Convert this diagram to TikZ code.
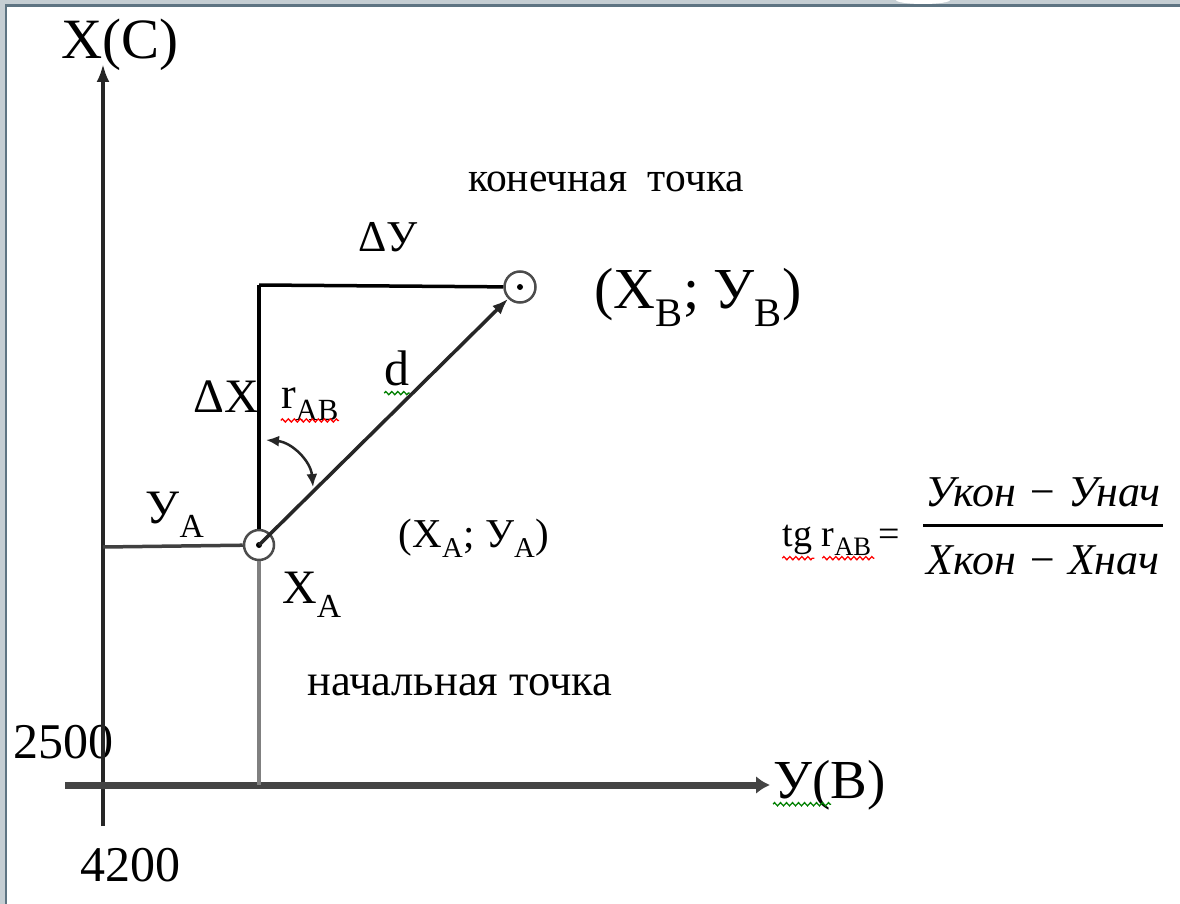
\documentclass[tikz,border=0pt]{standalone}
\usepackage{fontspec}
\setmainfont{Liberation Serif}
\usepackage{xcolor}
\usetikzlibrary{arrows.meta,positioning,calc,decorations.pathmorphing}

\definecolor{framelight}{HTML}{C5CED3}
\definecolor{framedark}{HTML}{5E7482}
\definecolor{axisgray}{HTML}{444444}
\definecolor{spellred}{HTML}{FF0000}
\definecolor{spellgreen}{HTML}{008000}
\newcommand{\fsz}[1]{\fontsize{#1}{#1}\selectfont}

\begin{document}
\begin{tikzpicture}[
  x=1pt, y=-1pt,
  lbl/.style={inner sep=0pt, anchor=center},
  pt/.style={draw=black!70, circle, line width=2.5pt, minimum size=30pt, inner sep=0pt},
  dot/.style={fill=black, circle, minimum size=6pt, inner sep=0pt},
  vaxis/.style={line width=3.5pt, black!85, -{Latex[length=18pt, width=13pt]}},
  haxis/.style={line width=7pt, axisgray, -{Latex[length=14pt, width=18pt]}},
  leg/.style={line width=3.5pt, black},
  leggray/.style={line width=3.5pt, black!50},
  arr/.style={line width=3.5pt, black!85, -{Latex[length=16pt, width=12pt]}},
  angarr/.style={line width=2.5pt, black!85, {Latex[length=13pt, width=11pt]}-{Latex[length=13pt, width=11pt]}},
  wave/.style={line width=1.3pt, decorate,
               decoration={zigzag, segment length=6pt, amplitude=1.6pt}}
]
\useasboundingbox (0,0) rectangle (1180,904);
\fill[white] (0,0) rectangle (1180,904);
\fill[framelight] (0,0) rectangle (1180,5);
\fill[framedark] (0,4) rectangle (1180,7);
\fill[framelight] (0,0) rectangle (5,904);
\fill[framedark] (5,4) rectangle (7,904);
\fill[white] (923,0) ellipse [x radius=27, y radius=4];

\coordinate (xbot) at (103,826);
\coordinate (xtop) at (103,64);
\coordinate (yleft) at (65,785);
\coordinate (ytip) at (770,785);
\coordinate (corner) at (259,285);
\coordinate (foot) at (259,785);
\coordinate (ya) at (103,547);

\node[pt] (A) at (259,545) {};
\node[pt, minimum size=31pt] (B) at (520,287) {};
\node[dot] at (A.center) {};
\node[dot] at (B.center) {};

\coordinate (a1) at (266,440);
\coordinate (a2) at (313,487);

\node[lbl, font=\fsz{57}] (xlab) at (120,45) {X(C)};
\node[lbl, font=\fsz{55}, anchor=west] (ylab) at (773,785) {У(В)};
\node[lbl, font=\fsz{50}] (n4200) at (130,865) {4200};
\node[lbl, font=\fsz{50}] (n2500) at (63,742) {2500};
\node[lbl, font=\fsz{41.5}] (end) at (606,182) {конечная\ \ точка};
\node[lbl, font=\fsz{44}] (dy) at (388,237) {ΔУ};
\node[lbl, font=\fsz{58}] (bxy) at (698,297) {(X\textsubscript{В}; У\textsubscript{В})};
\node[lbl, font=\fsz{50}] (d) at (397,368) {d};
\node[lbl, font=\fsz{48}] (dx) at (226,397) {ΔX};
\node[lbl, font=\fsz{44}] (rab) at (310,404) {r\textsubscript{АВ}};
\node[lbl, font=\fsz{48}] (yalab) at (175,515) {У\textsubscript{А}};
\node[lbl, font=\fsz{41}] (axy) at (474,538) {(X\textsubscript{А}; У\textsubscript{А})};
\node[lbl, font=\fsz{48}] (xalab) at (312,595) {X\textsubscript{А}};
\node[lbl, font=\fsz{44.5}] (start) at (460,685) {начальная точка};

\node[lbl, font=\fsz{38}] (tg) at (841,540) {tg r\textsubscript{АВ}\,=};
\node[lbl, font=\fsz{44}\itshape] (num) at (1043,492) {Укон − Унач};
\node[lbl, font=\fsz{44}\itshape] (den) at (1043,560) {Хкон − Хнач};
\coordinate (barl) at (923,525);
\coordinate (barr) at (1163,525);

\draw[vaxis] (xbot) -- (xtop);
\draw[haxis] (yleft) -- (ytip);
\draw[leg] (corner) -- (B);
\draw[leg] (corner) -- (A);
\draw[leggray] (A) -- (foot);
\draw[leg, black!75] (ya) -- (A);
\draw[arr] (A.center) -- (B);
\draw[angarr] (a1) to[bend left=40] (a2);
\draw[line width=3pt] (barl) -- (barr);

\draw[wave, spellgreen] ([yshift=-8pt]d.base west) -- ([yshift=-8pt]d.base east);
\draw[wave, spellred] ([yshift=-12pt]rab.base west) -- ([yshift=-12pt]rab.base east);
\draw[wave, spellgreen] ([yshift=-6pt]ylab.base west) -- ++(58,0);
\draw[wave, spellred] ([yshift=-12pt]tg.base west) -- ++(32,0);
\draw[wave, spellred] ([xshift=40pt, yshift=-12pt]tg.base west) -- ++(52,0);
\end{tikzpicture}
\end{document}
